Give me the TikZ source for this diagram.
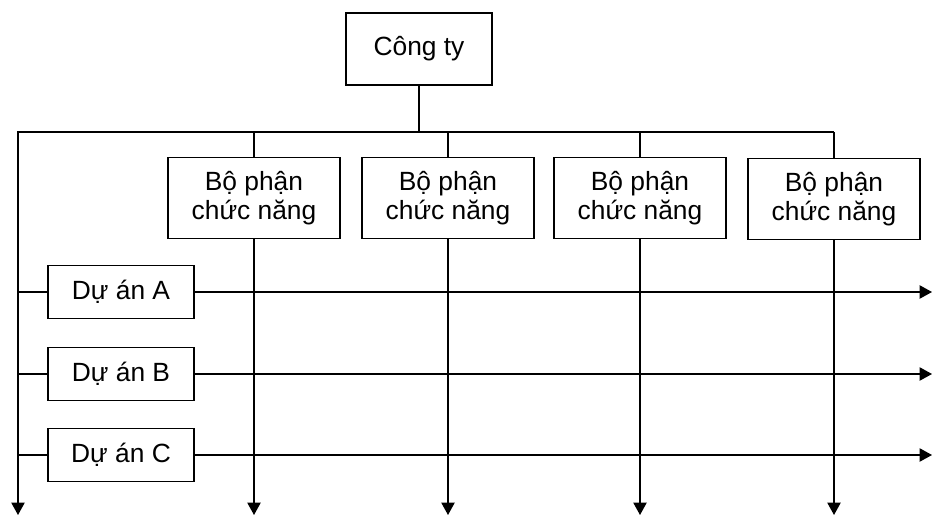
\documentclass[tikz,border=0pt]{standalone}
\usepackage{fontspec}
\setmainfont{Liberation Sans}
\usetikzlibrary{arrows.meta}
\begin{document}
\begin{tikzpicture}[x=0.02cm,y=-0.02cm,line width=0.8pt,
 box/.style={draw,align=center,inner sep=0pt,font=\fontsize{15}{16.5}\selectfont},
 ctbox/.style={box,minimum width=2.92cm,minimum height=1.44cm},
 bpbox/.style={box,minimum width=3.44cm,minimum height=1.62cm},
 dabox/.style={box,minimum width=2.92cm,minimum height=1.06cm},
 arr/.style={-{Triangle[width=7.5pt,length=7pt]}}]
 \useasboundingbox (0,0) rectangle (936,517);
 \node[ctbox] (cty) at (419,49) {Công ty};
 \node[bpbox] (bp1) at (254,198) {Bộ phận\\chức năng};
 \node[bpbox] (bp2) at (448,198) {Bộ phận\\chức năng};
 \node[bpbox] (bp3) at (640,198) {Bộ phận\\chức năng};
 \node[bpbox] (bp4) at (834,199) {Bộ phận\\chức năng};
 \node[dabox] (da) at (121,292) {Dự án A};
 \node[dabox] (db) at (121,374) {Dự án B};
 \node[dabox] (dc) at (121,455) {Dự án C};
 \coordinate (bl) at (18,132);
 \coordinate (bot) at (18,515);
 \coordinate (rt) at (932,0);
 % truc ngang
 \draw (cty.south) -- (cty.south |- bl);
 \draw[arr] (bp4.north |- bl) -- (bl) -- (bot);
 \foreach \b in {bp1,bp2,bp3,bp4}{
  \draw (\b.north) -- (\b.north |- bl);
  \draw[arr] (\b.south) -- (\b.south |- bot);
 }
 % du an
 \foreach \d in {da,db,dc}{
  \draw (\d.west -| bl) -- (\d.west);
  \draw[arr] (\d.east) -- (\d.east -| rt);
 }
\end{tikzpicture}
\end{document}
